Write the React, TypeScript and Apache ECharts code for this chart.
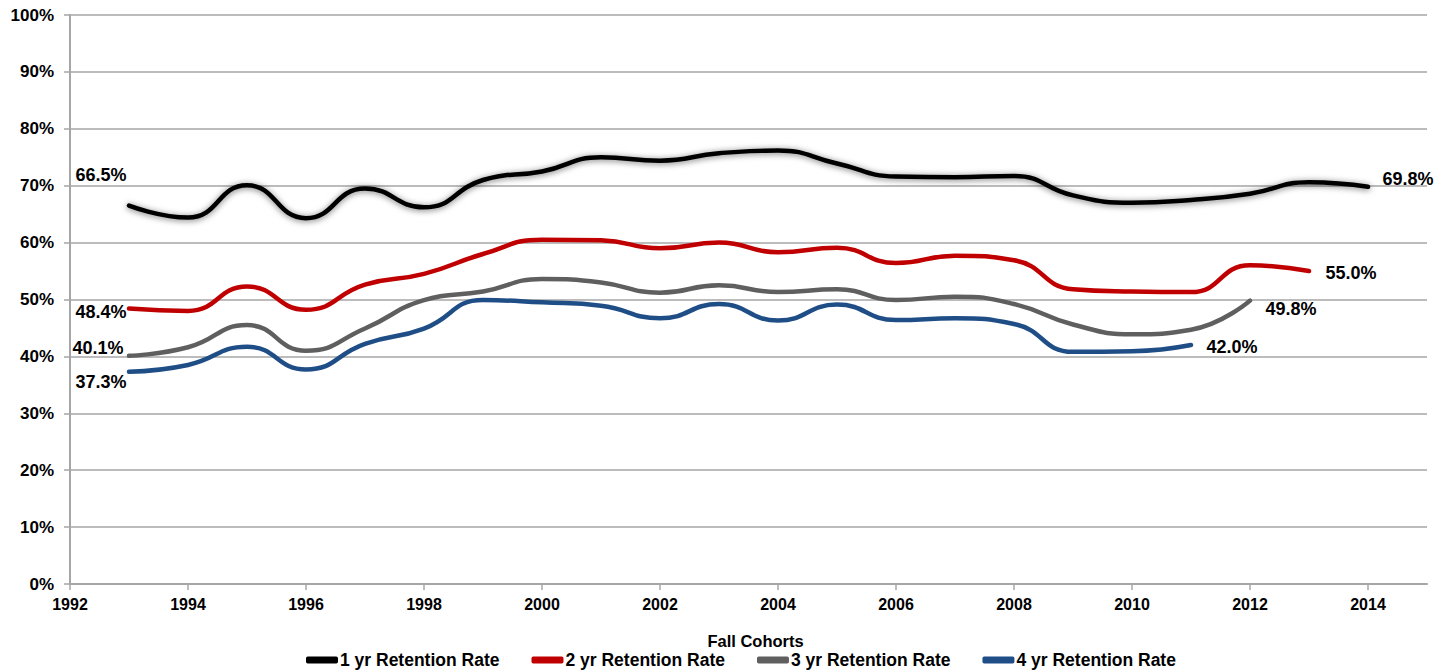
import React, { useEffect, useRef } from "react";
import * as echarts from "echarts";

const years = [1993, 1994, 1995, 1996, 1997, 1998, 1999, 2000, 2001, 2002, 2003, 2004, 2005, 2006, 2007, 2008, 2009, 2010, 2011, 2012, 2013, 2014];
const yr1 = [66.5, 64.4, 70.1, 64.3, 69.5, 66.2, 71.0, 72.5, 75.0, 74.4, 75.7, 76.2, 73.9, 71.6, 71.5, 71.7, 68.3, 67.0, 67.5, 68.6, 70.6, 69.8];
const yr2 = [48.4, 48.0, 52.3, 48.2, 52.6, 54.5, 58.0, 60.5, 60.4, 59.0, 60.0, 58.3, 59.1, 56.4, 57.7, 56.9, 51.8, 51.4, 51.3, 56.0, 55.0];
const yr3 = [40.1, 41.6, 45.5, 41.0, 44.9, 49.9, 51.4, 53.6, 53.0, 51.2, 52.5, 51.3, 51.8, 49.9, 50.5, 49.2, 45.6, 43.9, 44.7, 49.8];
const yr4 = [37.3, 38.5, 41.7, 37.7, 42.2, 44.9, 49.9, 49.5, 48.9, 46.7, 49.2, 46.3, 49.1, 46.4, 46.7, 45.7, 40.8, 40.9, 42.0];
const seriesNames = ["1 yr Retention Rate", "2 yr Retention Rate", "3 yr Retention Rate", "4 yr Retention Rate"];
const colors = ["#000000", "#c00000", "#5f5f5f", "#1f4e87"];
const yTicks = [0, 10, 20, 30, 40, 50, 60, 70, 80, 90, 100];

const FONT = "Liberation Sans, Arial, sans-serif";
const baseFont = { fontFamily: FONT, fontWeight: "bold" as const, color: "#000" };

// label placement (relative to point) for first & last points
const firstPos: [number, number][] = [[-2, -30], [-2, 4], [-5, -7], [-2, 11]];
const lastPos: [number, number][] = [[15, -7], [17, 2], [16, 9], [16, 2]];

function buildData(vals: number[], idx: number) {
  return vals.map((v, i) => {
    const pt: any = { value: [years[i], v] };
    if (i === 0) {
      pt.label = { show: true, position: firstPos[idx], align: "right", verticalAlign: "middle" };
    } else if (i === vals.length - 1) {
      pt.label = { show: true, position: lastPos[idx], align: "left", verticalAlign: "middle" };
    }
    return pt;
  });
}

export default function App() {
  const ref = useRef<HTMLDivElement>(null);
  useEffect(() => {
    if (!ref.current) return;
    const chart = echarts.init(ref.current, null, { renderer: "svg" });
    const all = [yr1, yr2, yr3, yr4];
    chart.setOption({
      animation: false,
      grid: { left: 70, right: 19, top: 15, bottom: 87, containLabel: false },
      legend: {
        top: 651,
        left: 301,
        padding: [0, 5],
        itemGap: 32,
        itemWidth: 32,
        itemHeight: 7,
        icon: "roundRect",
        textStyle: { ...baseFont, fontSize: 17.5, padding: [0, 0, 0, -3] },
        data: seriesNames,
      },
      xAxis: {
        type: "value",
        min: 1992,
        max: 2015,
        interval: 2,
        name: "Fall Cohorts",
        nameLocation: "middle",
        nameGap: 48,
        nameTextStyle: { ...baseFont, fontSize: 16.5, padding: [0, 0, 0, 14] },
        axisLine: { lineStyle: { color: "#a6a6a6", width: 2 } },
        axisTick: { show: true, length: 6, lineStyle: { color: "#a6a6a6", width: 1.5 } },
        axisLabel: { ...baseFont, fontSize: 16, margin: 12, showMaxLabel: false, formatter: (v: number) => (v % 2 === 0 ? String(v) : "") },
        splitLine: { show: false },
      },
      yAxis: {
        type: "value",
        min: 0,
        max: 100,
        interval: 10,
        axisLine: { show: true, lineStyle: { color: "#a6a6a6", width: 2 } },
        axisTick: { show: true, length: 6, lineStyle: { color: "#a6a6a6", width: 1.5 } },
        axisLabel: { ...baseFont, fontSize: 17, margin: 16, formatter: (v: number) => (yTicks.includes(v) ? v + "%" : "") },
        splitLine: { show: true, lineStyle: { color: "#a6a6a6", width: 1.5 } },
      },
      series: all.map((vals, idx) => ({
        name: seriesNames[idx],
        type: "line",
        smooth: 0.5,
        symbol: "circle",
        symbolSize: 1,
        showSymbol: true,
        color: colors[idx],
        itemStyle: { color: colors[idx] },
        lineStyle: idx === 0
          ? { color: colors[idx], width: 4.5, cap: "round", shadowColor: "rgba(0,0,0,0.55)", shadowBlur: 6, shadowOffsetY: 1 }
          : { color: colors[idx], width: 4.5, cap: "round" },
        label: { show: false, ...baseFont, fontSize: 18, formatter: (p: any) => p.value[1].toFixed(1) + "%" },
        data: buildData(vals, idx),
        z: 10 - idx,
      })),
    });
    return () => chart.dispose();
  }, []);
  return <div ref={ref} style={{ position: "absolute", left: 0, top: 0, width: 1446, height: 671 }} />;
}
